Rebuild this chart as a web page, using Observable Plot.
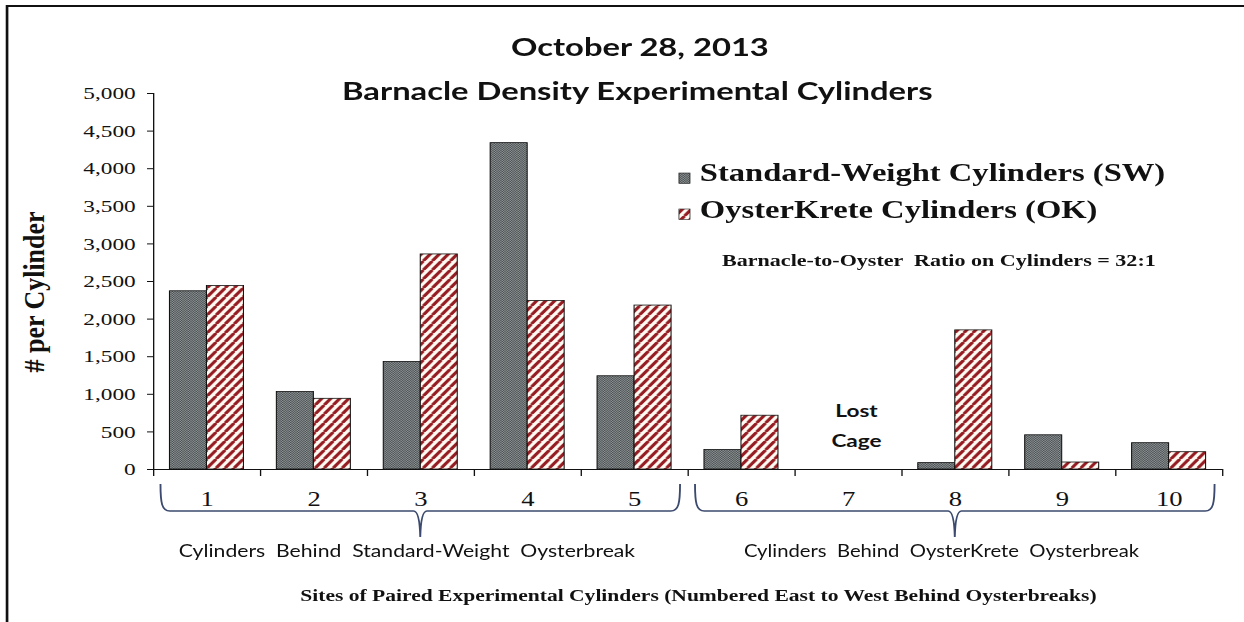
<!DOCTYPE html>
<html><head><meta charset="utf-8">
<script src="https://cdn.jsdelivr.net/npm/d3@7"></script>
<script src="https://cdn.jsdelivr.net/npm/@observablehq/plot@0.6"></script>
<style>
html,body{margin:0;padding:0;background:#fff;overflow:hidden;width:1244px;height:622px;}
#wrap{width:935px;height:622px;transform:scaleX(1.33048);transform-origin:0 0;}
</style></head><body><div id="wrap"></div>
<script>
// ---- data ----
const sites = [1, 2, 3, 4, 5, 6, 7, 8, 9, 10];
const seriesNames = ["Standard-Weight Cylinders (SW)", "OysterKrete Cylinders (OK)"];
const swValues = [2370, 1030, 1430, 4340, 1240, 260, null, 85, 455, 350];
const okValues = [2440, 940, 2860, 2240, 2180, 715, null, 1850, 93, 230];
const yTicks = [0, 500, 1000, 1500, 2000, 2500, 3000, 3500, 4000, 4500, 5000];
const titleLines = ["October 28, 2013", "Barnacle Density Experimental Cylinders"];
const yLabel = "# per Cylinder";
const xLabel = "Sites of Paired Experimental Cylinders (Numbered East to West Behind Oysterbreaks)";
const ratioNote = "Barnacle-to-Oyster  Ratio on Cylinders = 32:1";
const lostNote = ["Lost", "Cage"];
const lostSite = [7];
const groupFrom = [1, 6];
const groupTo = [5, 10];
const groupTip = [3, 8];
const groupLabels = ["Cylinders  Behind  Standard-Weight  Oysterbreak", "Cylinders  Behind  OysterKrete  Oysterbreak"];

// ---- derived tables ----
const half = 0.346;
const rows = sites.flatMap((s, i) => [
  {site: s, series: seriesNames[0], value: swValues[i]},
  {site: s, series: seriesNames[1], value: okValues[i]}
]).filter(d => d.value != null);
const swRows = rows.filter(d => d.series === seriesNames[0]);
const okRows = rows.filter(d => d.series === seriesNames[1]);
const boundaries = [...sites.map(s => s - 0.5), sites[sites.length - 1] + 0.5];
const groupLabelWidths = [343, 297];
const groups = groupFrom.map((f, i) => ({from: f, to: groupTo[i], tip: groupTip[i], label: groupLabels[i], w: groupLabelWidths[i]}));

const SERIF = "'Liberation Serif', 'Times New Roman', serif";
const SANS = "Lato, 'Open Sans', sans-serif";

function border() {
  return d3.create("svg:rect").attr("x", 5.3).attr("y", 6).attr("width", 2000).attr("height", 2000)
    .attr("fill", "none").attr("stroke", "#111").attr("stroke-width", 2).node();
}

function braces(index, scales) {
  const {x, y} = scales;
  const g = d3.create("svg:g");
  const y0 = y(0);
  for (const grp of groups) {
    const X0 = x(grp.from - 0.43), X1 = x(grp.to + 0.43), Xt = x(grp.tip);
    const yTop = y0 + 15, yLine = y0 + 42, yTip = y0 + 68;
    const p = d3.path();
    p.moveTo(X0, yTop);
    p.bezierCurveTo(X0, yLine - 8, X0 + 1, yLine, X0 + 7, yLine);
    p.lineTo(Xt - 5, yLine);
    p.quadraticCurveTo(Xt - 0.5, yLine, Xt, yTip);
    p.quadraticCurveTo(Xt + 0.5, yLine, Xt + 5, yLine);
    p.lineTo(X1 - 7, yLine);
    p.bezierCurveTo(X1 - 1, yLine, X1, yLine - 8, X1, yTop);
    g.append("path").attr("d", p.toString()).attr("fill", "none")
      .attr("stroke", "#3b4a6e").attr("stroke-width", 1.4);
    g.append("text").attr("x", Xt - 10).attr("y", y0 + 88)
      .attr("text-anchor", "middle").attr("font-family", SANS).attr("font-size", 17.5)
      .attr("textLength", grp.w).attr("lengthAdjust", "spacingAndGlyphs")
      .style("white-space", "pre").attr("fill", "#111").text(grp.label);
  }
  return g.node();
}

function annotations() {
  const g = d3.create("svg:g");
  g.append("text").attr("x", 481).attr("y", 56).attr("text-anchor", "middle")
    .attr("font-family", SANS).attr("font-weight", "bold").attr("font-size", 24.6).attr("fill", "#111")
    .text(titleLines[0]);
  g.append("text").attr("x", 479).attr("y", 100).attr("text-anchor", "middle")
    .attr("font-family", SANS).attr("font-weight", "bold").attr("font-size", 24.6).attr("fill", "#111")
    .text(titleLines[1]);
  // legend
  const fills = ["url(#pSW)", "url(#pOK)"];
  const swY = [173, 209], txtY = [181, 218];
  seriesNames.forEach((name, i) => {
    g.append("rect").attr("x", 510.3).attr("y", swY[i]).attr("width", 8.3).attr("height", 10.5)
      .attr("fill", fills[i]).attr("stroke", "#222").attr("stroke-width", 0.6);
    g.append("text").attr("x", 526).attr("y", txtY[i]).attr("text-anchor", "start")
      .attr("font-family", SERIF).attr("font-weight", "bold").attr("font-size", 24.5)
      .attr("fill", "#111").text(name);
  });
  g.append("text").attr("x", 542.7).attr("y", 266).attr("text-anchor", "start").attr("font-family", SERIF)
    .attr("font-weight", "bold").attr("font-size", 16.6).style("white-space", "pre").attr("fill", "#111")
    .text(ratioNote);
  // axis titles
  g.append("text").attr("transform", "translate(33,292) rotate(-90)").attr("text-anchor", "middle")
    .attr("font-family", SERIF).attr("font-weight", "bold").attr("font-size", 22)
    .attr("textLength", 161).attr("lengthAdjust", "spacingAndGlyphs").attr("fill", "#111")
    .text(yLabel);
  g.append("text").attr("x", 525).attr("y", 601).attr("text-anchor", "middle")
    .attr("font-family", SERIF).attr("font-weight", "bold").attr("font-size", 16.2).attr("fill", "#111")
    .text(xLabel);
  return g.node();
}

const chart = Plot.plot({
  width: 935,
  height: 622,
  marginLeft: 115,
  marginRight: 16.5,
  marginTop: 93,
  marginBottom: 153,
  style: {fontFamily: SERIF, background: "white", color: "#111", overflow: "visible"},
  x: {domain: [0.5, 10.5], axis: null},
  y: {domain: [0, 5000], axis: null},
  marks: [
    border,
    Plot.rectY(swRows, {x1: d => d.site - half, x2: "site", y1: 0, y2: "value",
      fill: "url(#pSW)", stroke: "#111", strokeWidth: 0.8}),
    Plot.rectY(okRows, {x1: "site", x2: d => d.site + half, y1: 0, y2: "value",
      fill: "url(#pOK)", stroke: "#111", strokeWidth: 0.8}),
    Plot.ruleX([0.5], {stroke: "#111", strokeWidth: 1}),
    Plot.ruleY([0], {stroke: "#111", strokeWidth: 1}),
    Plot.axisY({ticks: yTicks, tickFormat: d3.format(","), tickSize: 4.5, tickPadding: 9,
      fontSize: 17.5, label: null, stroke: "#111"}),
    Plot.axisX({ticks: boundaries, tickFormat: () => "", tickSize: 7, label: null}),
    Plot.axisX({ticks: sites, tickFormat: d => String(d), tickSize: 0, tickPadding: 22,
      fontSize: 20, label: null}),
    Plot.text(lostSite, {x: d => d, y: 0, text: () => lostNote.join("\n"), dx: 6, dy: -47,
      fontFamily: SANS, fontWeight: "bold", fontSize: 17, lineHeight: 1.75, fill: "#111"}),
    braces,
    annotations
  ]
});

// patterns
const svg = d3.select(chart.tagName.toLowerCase() === "svg" ? chart : chart.querySelector("svg"));
const defs = svg.insert("defs", ":first-child");
const sw = defs.append("pattern").attr("id", "pSW").attr("patternUnits", "userSpaceOnUse")
  .attr("width", 2).attr("height", 2);
sw.append("rect").attr("width", 2).attr("height", 2).attr("fill", "#8e9394");
sw.append("rect").attr("width", 1).attr("height", 1).attr("fill", "#4a4f51");
sw.append("rect").attr("x", 1).attr("y", 1).attr("width", 1).attr("height", 1).attr("fill", "#4a4f51");
const pw = 6.77, ph = 9;
const ok = defs.append("pattern").attr("id", "pOK").attr("patternUnits", "userSpaceOnUse")
  .attr("width", pw).attr("height", ph);
ok.append("rect").attr("width", pw).attr("height", ph).attr("fill", "#fffaf2");
ok.append("path").attr("d", `M${-pw},${ph}L0,0M0,${ph}L${pw},0M${pw},${ph}L${2 * pw},0`)
  .attr("stroke", "#951c22").attr("stroke-width", 2.6);

document.getElementById("wrap").appendChild(chart);
</script>
</body></html>
